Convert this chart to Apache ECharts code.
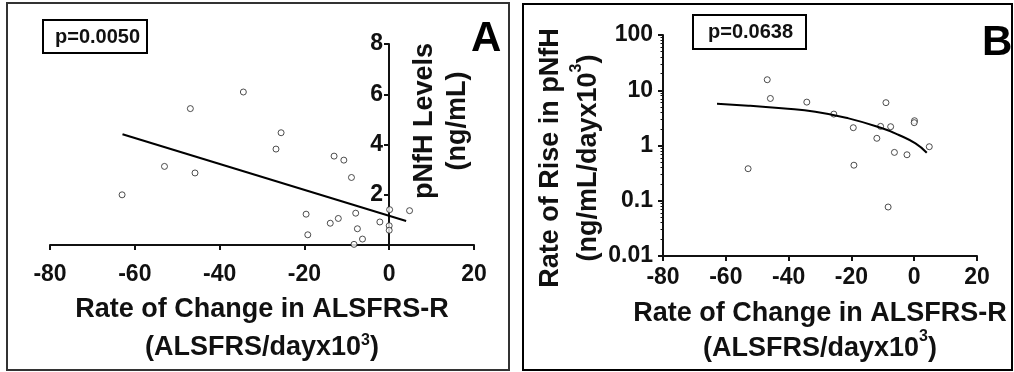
<!DOCTYPE html>
<html lang="en">
<head>
  <meta charset="UTF-8">
  <title>pNfH vs ALSFRS-R</title>
</head>
<body>
<div id="chart"></div>
<style>
  html, body {
    margin: 0;
    width: 100%;
    height: 100%;
    background: #fff;
  }
  #chart {
    width: 1014px;
    height: 372px;
  }
</style>
<script src="https://cdn.jsdelivr.net/npm/echarts@6/dist/echarts.min.js"></script>
<script>
  // panel A: pNfH levels against ALSFRS-R slope
  const levelsX = [-63.0, -53.0, -46.9, -45.8, -34.4, -26.7, -25.5, -19.6, -19.2, -13.9, -13.0, -12.0,
    -10.7, -8.9, -8.3, -7.9, -7.5, -6.3, -2.2, 0.1, 0.0, 0.0, 4.8];
  const levelsY = [2.0, 3.13, 5.43, 2.87, 6.09, 3.82, 4.47, 1.23, 0.41, 0.87, 3.54, 1.06,
    3.38, 2.69, 0.03, 1.27, 0.65, 0.24, 0.92, 1.41, 0.77, 0.59, 1.37];
  const levelsFitX = [-62.9, 4.0];
  const levelsFitY = [4.41, 0.96];

  // panel B: rate of rise in pNfH against ALSFRS-R slope
  const riseX = [-52.9, -46.8, -45.8, -34.2, -25.6, -19.4, -19.2, -11.9, -10.7, -9.0, -8.3, -7.5,
    -6.3, -2.3, 0.1, 0.0, 4.8];
  const riseY = [0.38, 15.5, 7.1, 6.1, 3.7, 2.1, 0.44, 1.35, 2.22, 5.96, 0.077, 2.19,
    0.75, 0.68, 2.81, 2.59, 0.95];
  const riseFitX = [-62.8, -52.8, -42.2, -31.5, -20.9, -10.2, -4.9, 0.4, 4.0];
  const riseFitY = [5.7, 5.25, 4.7, 4.1, 3.1, 2.05, 1.55, 1.09, 0.74];

  const logMinorTicks = [0.02, 0.03, 0.04, 0.05, 0.06, 0.07, 0.08, 0.09,
    0.2, 0.3, 0.4, 0.5, 0.6, 0.7, 0.8, 0.9,
    2, 3, 4, 5, 6, 7, 8, 9,
    20, 30, 40, 50, 60, 70, 80, 90];

  const font = 'Liberation Sans';
  const ink = '#111';

  function pairs(xs, ys) {
    return xs.map((x, i) => [x, ys[i]]);
  }

  function tickLabel(margin) {
    return {margin: margin, fontFamily: font, fontWeight: 'bold', fontSize: 23, color: ink};
  }

  function nameStyle(lineHeight, supHeight) {
    return {
      fontFamily: font, fontWeight: 'bold', fontSize: 27, color: ink, lineHeight: lineHeight,
      rich: {
        sup: {fontFamily: font, fontWeight: 'bold', fontSize: 16, color: ink, verticalAlign: 'top', height: supHeight}
      }
    };
  }

  const xName = 'Rate of Change in ALSFRS-R\n(ALSFRS/dayx10{sup|3})';
  const axisLine = {show: true, lineStyle: {color: ink, width: 2}};
  const axisTick = {show: true, length: 5, lineStyle: {color: ink, width: 2}};

  const chart = echarts.init(document.getElementById('chart'));
  chart.setOption({
    animation: false,
    grid: [
      {left: 50, top: 44, width: 424, height: 208},
      {left: 663, top: 35, width: 314, height: 221}
    ],
    xAxis: [{
      type: 'value', gridIndex: 0, min: -80, max: 20, interval: 20,
      axisLine: axisLine, axisTick: axisTick, axisLabel: tickLabel(18),
      splitLine: {show: false},
      name: xName, nameLocation: 'middle', nameGap: 45, nameTextStyle: nameStyle(38, 23)
    }, {
      type: 'value', gridIndex: 1, min: -80, max: 20, interval: 20,
      axisLine: axisLine, axisTick: axisTick, axisLabel: tickLabel(10),
      splitLine: {show: false},
      name: xName, nameLocation: 'middle', nameGap: 40, nameTextStyle: nameStyle(35, 11)
    }],
    yAxis: [{
      // sits on x = 0: shifted right from the grid's left edge
      type: 'value', gridIndex: 0, min: 0, max: 8, interval: 2, position: 'left', offset: -339,
      axisLine: {show: true, onZero: false, lineStyle: {color: ink, width: 2}},
      axisTick: axisTick,
      axisLabel: Object.assign(tickLabel(6), {showMinLabel: false}),
      splitLine: {show: false}
    }, {
      type: 'log', logBase: 10, gridIndex: 1, min: 0.01, max: 100, splitNumber: 4, position: 'left',
      axisLine: {show: true, onZero: false, lineStyle: {color: ink, width: 2}},
      axisTick: axisTick,
      axisLabel: Object.assign(tickLabel(10), {formatter: v => String(parseFloat(v.toPrecision(3)))}),
      splitLine: {show: false}
    }, {
      type: 'log', logBase: 10, gridIndex: 1, min: 0.01, max: 100, position: 'left',
      axisLine: {show: false, onZero: false},
      axisTick: {show: true, length: 2.5, customValues: logMinorTicks, lineStyle: {color: ink, width: 1}},
      axisLabel: {show: false},
      splitLine: {show: false}
    }],
    graphic: [
      {type: 'rect', silent: true, shape: {x: 7, y: 3, width: 502, height: 367},
        style: {fill: 'none', stroke: '#333', lineWidth: 2}},
      {type: 'rect', silent: true, shape: {x: 523, y: 4, width: 489, height: 366},
        style: {fill: 'none', stroke: '#000', lineWidth: 2}},
      {type: 'rect', silent: true, shape: {x: 43, y: 20, width: 104, height: 33},
        style: {fill: '#fff', stroke: '#000', lineWidth: 2}},
      {type: 'text', silent: true, x: 55, y: 37,
        style: {text: 'p=0.0050', font: 'bold 20px "Liberation Sans"', fill: ink, verticalAlign: 'middle'}},
      {type: 'rect', silent: true, shape: {x: 693, y: 15, width: 113, height: 34},
        style: {fill: '#fff', stroke: '#000', lineWidth: 2}},
      {type: 'text', silent: true, x: 708, y: 32,
        style: {text: 'p=0.0638', font: 'bold 20px "Liberation Sans"', fill: ink, verticalAlign: 'middle'}},
      {type: 'text', silent: true, x: 471, y: 39,
        style: {text: 'A', font: 'bold 42px "Liberation Sans"', fill: '#000', verticalAlign: 'middle'}},
      {type: 'text', silent: true, x: 982, y: 43,
        style: {text: 'B', font: 'bold 42px "Liberation Sans"', fill: '#000', verticalAlign: 'middle'}},
      {type: 'text', silent: true, x: 441, y: 121, rotation: Math.PI / 2,
        style: {text: 'pNfH Levels\n(ng/mL)', fontFamily: font, fontWeight: 'bold', fontSize: 27,
          lineHeight: 33, fill: ink, align: 'center', verticalAlign: 'middle'}},
      {type: 'text', silent: true, x: 570, y: 158, rotation: Math.PI / 2,
        style: {text: 'Rate of Rise in pNfH\n(ng/mL/dayx10{sup|3})', fontFamily: font, fontWeight: 'bold',
          fontSize: 27, lineHeight: 38, fill: ink, align: 'center', verticalAlign: 'middle',
          rich: {sup: {fontFamily: font, fontWeight: 'bold', fontSize: 16, fill: ink, verticalAlign: 'top', height: 14}}}}
    ],
    series: [{
      type: 'line', xAxisIndex: 0, yAxisIndex: 0, showSymbol: false,
      lineStyle: {color: '#000', width: 2}, data: pairs(levelsFitX, levelsFitY)
    }, {
      type: 'scatter', xAxisIndex: 0, yAxisIndex: 0, symbolSize: 6,
      itemStyle: {color: '#fff', borderColor: '#222', borderWidth: 1}, data: pairs(levelsX, levelsY)
    }, {
      type: 'line', xAxisIndex: 1, yAxisIndex: 1, showSymbol: false, smooth: true,
      lineStyle: {color: '#000', width: 2}, data: pairs(riseFitX, riseFitY)
    }, {
      type: 'scatter', xAxisIndex: 1, yAxisIndex: 1, symbolSize: 6,
      itemStyle: {color: '#fff', borderColor: '#222', borderWidth: 1}, data: pairs(riseX, riseY)
    }]
  });
</script>
</body>
</html>
